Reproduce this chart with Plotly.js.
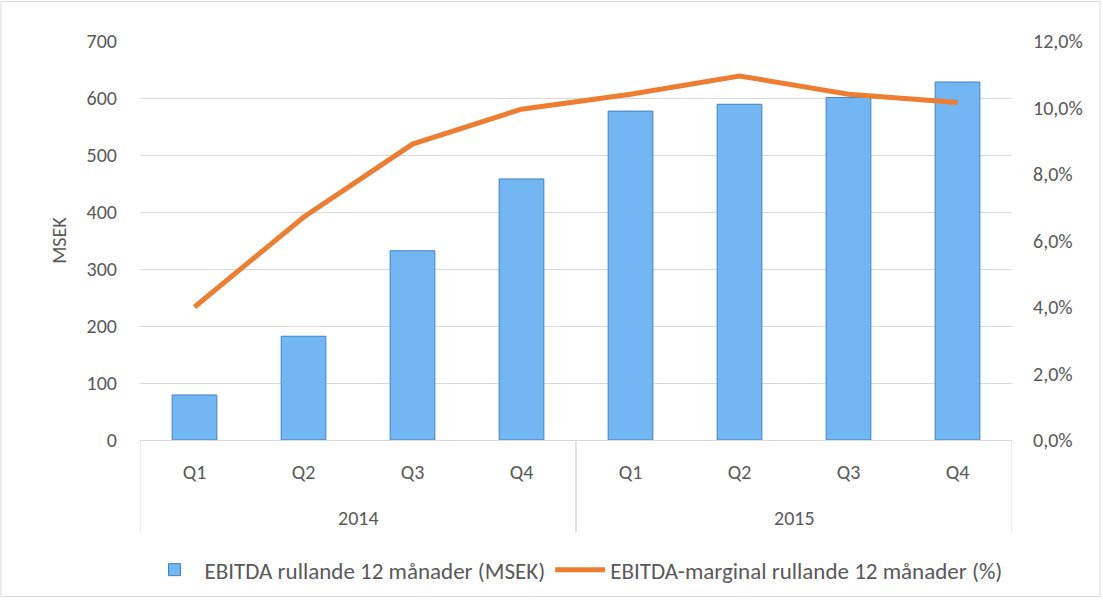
<!DOCTYPE html>
<html>
<head>
<meta charset="utf-8">
<script src="https://cdn.plot.ly/plotly-3.0.1.min.js"></script>
<style>html,body{margin:0;padding:0;background:#fff;}#chart{width:1103px;height:603px;}</style>
</head>
<body>
<div id="chart"></div>
<script>
const years = ["2014","2014","2014","2014","2015","2015","2015","2015"];
const quarters = ["Q1","Q2","Q3","Q4","Q1","Q2","Q3","Q4"];
const yearLabels = ["2014","2015"];
const ebitdaMSEK = [79, 182, 332, 458, 577, 589, 601, 628];
const marginPct = [4.0, 6.7, 8.9, 9.95, 10.4, 10.95, 10.4, 10.15];
const barName = "EBITDA rullande 12 månader (MSEK)";
const lineName = "EBITDA-marginal rullande 12 månader (%)";

const font = "Carlito, Lato, 'Open Sans', sans-serif";
const textColor = "#595959";
const gridColor = "#d9d9d9";

const xIdx = quarters.map((q, i) => i);

const annotations = [];
const shapes = [];
yearLabels.forEach(yr => {
  const idx = xIdx.filter(i => years[i] === yr);
  const lo = Math.min(...idx), hi = Math.max(...idx);
  annotations.push({
    x: (lo + hi) / 2, xref: "x", y: -79 / 403, yref: "paper", yanchor: "middle",
    text: yr, showarrow: false, font: {family: font, size: 20, color: textColor}
  });
  [lo - 0.5, hi + 0.5].forEach(b => shapes.push({
    type: "line", xref: "x", yref: "paper", x0: b, x1: b, y0: 0, y1: -93 / 403,
    line: {color: gridColor, width: 1}
  }));
});

shapes.push({type: "rect", xref: "paper", yref: "paper", x0: -139 / 872, x1: (1100 - 140) / 872, y0: -158 / 403, y1: 1 + 40 / 403,
  line: {color: gridColor, width: 1}, fillcolor: "rgba(0,0,0,0)", layer: "below"});

const traces = [
  {
    type: "bar",
    x: xIdx,
    y: ebitdaMSEK,
    name: barName,
    marker: {color: "#72b7f3", line: {color: "#3f82c6", width: 1}},
    width: 0.41,
    hoverinfo: "y"
  },
  {
    type: "scatter",
    mode: "lines",
    x: xIdx,
    y: marginPct,
    name: lineName,
    yaxis: "y2",
    line: {color: "#ed7d31", width: 5},
    hoverinfo: "y"
  }
];

const layout = {
  width: 1103,
  height: 603,
  margin: {l: 140, r: 91, t: 41, b: 159},
  paper_bgcolor: "#ffffff",
  plot_bgcolor: "#ffffff",
  font: {family: font, size: 20, color: textColor},
  separators: ", ",
  showlegend: true,
  legend: {
    orientation: "h",
    x: 0.5, xanchor: "center",
    y: -131 / 403, yanchor: "middle",
    font: {family: font, size: 23, color: textColor},
    traceorder: "normal",
    itemwidth: 50
  },
  xaxis: {
    range: [-0.5, 7.5],
    tickvals: xIdx,
    ticktext: quarters,
    showgrid: false,
    zeroline: false,
    showline: true,
    linecolor: gridColor,
    linewidth: 1,
    ticks: "",
    ticklabelstandoff: 14,
    tickfont: {family: font, size: 20, color: textColor}
  },
  yaxis: {
    range: [0, 700],
    dtick: 100,
    showgrid: true,
    gridcolor: gridColor,
    gridwidth: 1,
    zeroline: false,
    showline: false,
    ticks: "",
    ticklabelstandoff: 22,
    tickfont: {family: font, size: 20, color: textColor},
    title: {text: "MSEK", font: {family: font, size: 20, color: textColor}, standoff: 14}
  },
  yaxis2: {
    overlaying: "y",
    side: "right",
    range: [0, 12],
    dtick: 2,
    tickformat: ".1f",
    ticksuffix: "%",
    showgrid: false,
    zeroline: false,
    showline: false,
    ticks: "",
    ticklabelstandoff: 20,
    tickfont: {family: font, size: 20, color: textColor}
  },
  annotations: annotations,
  shapes: shapes
};

Plotly.newPlot("chart", traces, layout, {displayModeBar: false, staticPlot: true});
</script>
</body>
</html>
